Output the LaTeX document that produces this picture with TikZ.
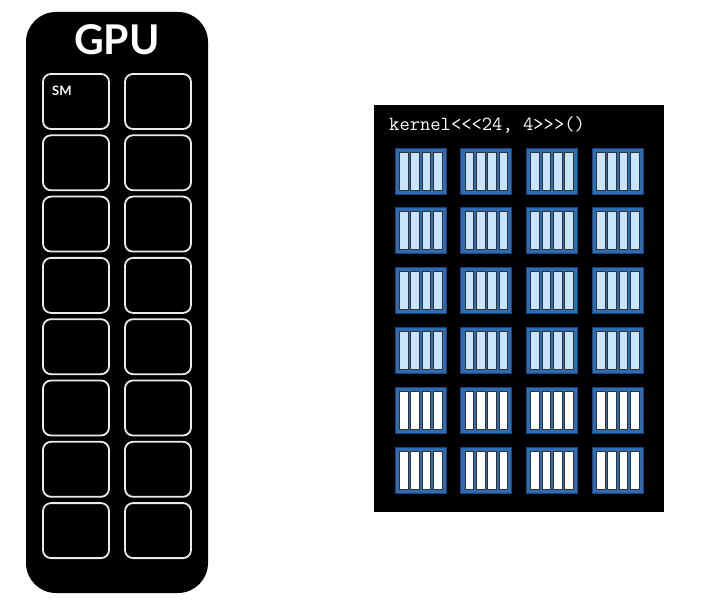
\documentclass[tikz,border=0pt]{standalone}
\usepackage{fontspec}
\setmainfont{Lato}
\definecolor{blockblue}{RGB}{46,108,180}
\definecolor{blockedge}{RGB}{28,66,122}
\definecolor{threadblue}{RGB}{200,228,250}
\definecolor{threadedge}{RGB}{50,50,50}
\tikzset{
	smbox/.style={draw=white!92!black,line width=1.8pt,rounded corners=8pt},
	blockbox/.style={fill=blockblue,draw=blockedge,line width=0.8pt},
	threadbar/.style={draw=threadedge,line width=0.7pt}
}
\begin{document}
\begin{tikzpicture}[x=1pt,y=-1pt]
			\useasboundingbox (0,0) rectangle (709,612);
			\fill[black,rounded corners=30pt]
			(26,12) rectangle (208,593);
			\node[white,anchor=base,inner sep=0pt,font=\bfseries\fontsize{41}{41}\selectfont] (gpu) at (117,55) {GPU};
			\foreach \r in {0,...,7}
			\foreach \c in {0,1}
			\draw[smbox] ({43+82*\c},{74+61.3*\r}) rectangle +(66,55);
			\node[white,anchor=base west,inner sep=0pt,font=\bfseries\fontsize{13}{13}\selectfont] (sm) at (52,96) {SM};
			\fill[black]
			(374,105) rectangle (664,512);
			\node[white,anchor=base west,inner sep=0pt,font=\ttfamily\fontsize{20}{20}\selectfont] (kernel) at (389,131) {kernel<<<24, 4>>>()};
			\foreach \r in {0,...,5}
			\foreach \c in {0,...,3}{
				\draw[blockbox] ({395+65.7*\c},{148+59.8*\r}) rectangle +(51,46);
				\foreach \t in {0,...,3}{
					\ifnum\r<4
					\draw[threadbar,fill=threadblue] ({399.3+65.7*\c+11.3*\t},{152+59.8*\r}) rectangle +(8.8,38);
					\else
					\draw[threadbar,fill=white] ({399.3+65.7*\c+11.3*\t},{152+59.8*\r}) rectangle +(8.8,38);
					\fi
				}
			}
			\end{tikzpicture}
\end{document}
